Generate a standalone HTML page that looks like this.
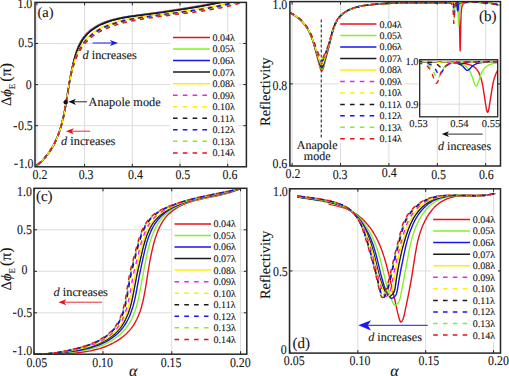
<!DOCTYPE html><html><head><meta charset="utf-8"><style>html,body{margin:0;padding:0;background:#fff;width:509px;height:376px;overflow:hidden}svg{display:block}text{font-family:"Liberation Serif",serif;fill:#141414;stroke:#141414;stroke-width:0.1px;text-rendering:geometricPrecision}</style></head><body>
<svg width="509" height="376" viewBox="0 0 509 376">
<rect width="509" height="376" fill="#fff"/>
<defs><clipPath id="ca"><rect x="35.0" y="2.4" width="211.4" height="164.4"/></clipPath><clipPath id="cb"><rect x="289.9" y="1.6" width="210.6" height="164.4"/></clipPath><clipPath id="cbi"><rect x="419.7" y="59.7" width="78" height="57.1"/></clipPath><clipPath id="cc"><rect x="34.0" y="188.3" width="212.8" height="166"/></clipPath><clipPath id="cd"><rect x="289.5" y="188.8" width="211" height="164.3"/></clipPath></defs>
<line x1="36.9" y1="2.4" x2="36.9" y2="166.8" stroke="#dcdcdc" stroke-width="1"/>
<line x1="84.6" y1="2.4" x2="84.6" y2="166.8" stroke="#dcdcdc" stroke-width="1"/>
<line x1="132.3" y1="2.4" x2="132.3" y2="166.8" stroke="#dcdcdc" stroke-width="1"/>
<line x1="180.0" y1="2.4" x2="180.0" y2="166.8" stroke="#dcdcdc" stroke-width="1"/>
<line x1="227.7" y1="2.4" x2="227.7" y2="166.8" stroke="#dcdcdc" stroke-width="1"/>
<line x1="35.0" y1="43.5" x2="246.4" y2="43.5" stroke="#dcdcdc" stroke-width="1"/>
<line x1="35.0" y1="84.60000000000001" x2="246.4" y2="84.60000000000001" stroke="#dcdcdc" stroke-width="1"/>
<line x1="35.0" y1="125.70000000000002" x2="246.4" y2="125.70000000000002" stroke="#dcdcdc" stroke-width="1"/>
<polyline points="34.8,167.0 38.5,164.1 41.8,161.0 44.9,157.8 47.9,154.0 50.7,150.1 53.1,146.0 55.5,141.3 57.5,136.5 59.2,132.1 60.8,127.0 62.2,121.9 63.5,116.2 65.7,105.1 69.4,82.6 71.1,73.1 73.2,63.0 74.4,58.2 75.5,54.3 76.7,50.6 78.1,46.9 79.7,43.4 81.3,40.4 83.1,37.7 84.9,35.5 86.7,33.4 89.1,31.2 91.7,29.1 94.8,27.0 98.1,25.1 101.5,23.4 105.1,22.0 108.8,20.7 113.0,19.4 117.3,18.4 122.2,17.4 128.0,16.5 157.1,12.6 180.5,9.1 202.8,5.3 225.4,1.0" fill="none" stroke="#e8121c" stroke-width="1.5"  stroke-linejoin="round" clip-path="url(#ca)"/>
<polyline points="34.8,167.0 38.5,164.1 41.8,161.0 44.9,157.7 48.0,154.0 50.7,150.0 53.1,145.9 55.3,141.7 57.4,136.9 59.1,132.4 60.7,127.4 62.1,122.2 63.5,116.5 64.6,111.3 65.6,105.5 69.3,82.9 71.0,73.3 73.1,63.7 74.3,58.9 75.4,55.1 76.7,51.3 78.1,47.6 79.6,44.1 81.2,41.1 83.0,38.4 84.7,36.1 86.9,33.7 89.3,31.5 91.8,29.4 94.9,27.3 97.8,25.6 101.2,23.9 104.8,22.4 109.0,20.9 113.2,19.6 117.5,18.6 122.8,17.5 128.7,16.5 158.8,12.5 182.7,8.9 204.6,5.2 226.2,1.0" fill="none" stroke="#85f02a" stroke-width="1.5"  stroke-linejoin="round" clip-path="url(#ca)"/>
<polyline points="34.8,167.0 38.5,164.1 41.8,161.0 44.9,157.7 48.0,153.9 50.7,150.0 53.2,145.9 55.3,141.6 57.4,136.8 59.1,132.3 60.6,127.7 62.0,122.6 63.4,116.9 64.5,111.6 65.6,105.8 69.3,83.2 70.9,74.0 73.0,64.5 74.1,60.1 75.3,55.8 76.7,51.6 78.1,47.9 79.8,44.4 81.4,41.4 83.1,38.6 84.8,36.4 87.0,34.0 89.4,31.7 92.0,29.7 95.1,27.6 98.4,25.6 101.8,23.9 105.4,22.4 109.6,21.0 113.8,19.7 118.2,18.7 123.5,17.6 129.4,16.6 160.5,12.5 172.5,10.7 184.4,8.9 205.9,5.2 227.1,1.0" fill="none" stroke="#1616f0" stroke-width="1.5"  stroke-linejoin="round" clip-path="url(#ca)"/>
<polyline points="34.8,167.0 38.5,164.0 41.9,161.0 44.9,157.7 48.0,153.9 50.5,150.3 53.0,146.2 55.2,142.0 57.3,137.2 59.0,132.7 60.5,128.1 61.9,122.9 63.3,117.2 64.4,112.0 65.5,106.2 69.2,83.9 70.8,74.7 72.9,65.1 74.0,60.8 75.3,56.5 76.7,52.3 78.1,48.6 79.7,45.1 81.3,42.1 83.1,39.3 85.1,36.7 87.2,34.2 89.6,32.0 92.2,30.0 95.3,27.8 98.6,25.9 102.1,24.2 105.7,22.7 109.9,21.2 114.1,19.9 118.9,18.8 124.3,17.7 130.2,16.7 162.8,12.4 174.8,10.6 186.3,8.8 197.3,7.0 207.8,5.1 217.9,3.1 228.1,1.0" fill="none" stroke="#1a1a1a" stroke-width="1.5"  stroke-linejoin="round" clip-path="url(#ca)"/>
<polyline points="34.9,166.9 38.2,164.3 41.6,161.2 44.7,157.9 47.6,154.4 50.1,150.8 52.5,147.0 54.8,142.7 56.9,138.2 58.7,133.6 60.3,129.0 61.8,123.8 63.1,118.5 64.2,113.1 65.3,107.3 68.8,85.9 70.4,77.5 71.3,73.0 72.3,68.6 73.4,64.8 74.6,60.9 76.1,56.7 77.8,52.6 79.8,48.6 81.7,45.2 83.9,42.0 86.3,39.0 88.6,36.5 91.5,34.0 94.5,31.7 97.8,29.6 101.2,27.7 105.3,25.8 109.5,24.1 113.7,22.7 118.6,21.3 123.5,20.0 130.4,18.6 138.3,17.3 178.4,12.0 189.7,10.4 199.5,8.8 209.8,7.0 219.1,5.2 227.8,3.2 236.6,1.1" fill="none" stroke="#ffef00" stroke-width="1.5"  stroke-linejoin="round" clip-path="url(#ca)"/>
<polyline points="34.9,166.9 38.2,164.3 41.6,161.2 44.7,157.9 47.6,154.4 50.2,150.7 52.5,146.9 54.9,142.6 56.9,138.1 58.7,133.5 60.3,128.8 61.8,123.6 63.1,118.3 64.2,113.4 65.3,107.5 68.8,86.1 70.3,77.6 72.2,69.2 73.3,65.3 74.5,61.5 76.0,57.3 77.7,53.2 79.7,49.2 81.7,45.8 83.8,42.5 86.3,39.5 88.6,37.1 91.4,34.5 94.5,32.2 97.8,30.1 101.2,28.2 105.3,26.2 109.5,24.6 113.8,23.1 118.6,21.6 124.0,20.3 131.4,18.8 139.9,17.4 180.6,12.0 191.4,10.5 201.3,8.9 211.1,7.1 220.4,5.3 229.2,3.3 238.0,1.1" fill="none" stroke="#f020f0" stroke-width="1.5" stroke-dasharray="4.3 4.5" stroke-dashoffset="-4.0" stroke-linejoin="round" clip-path="url(#ca)"/>
<polyline points="34.9,166.9 38.2,164.3 41.6,161.2 44.7,157.9 47.6,154.4 50.2,150.7 52.5,146.9 54.9,142.6 56.9,138.1 58.6,133.9 60.2,129.3 61.7,124.0 63.0,118.8 64.2,113.4 65.3,107.5 68.8,86.0 70.3,77.5 72.2,69.1 73.3,65.3 74.5,61.4 76.0,57.2 77.8,53.1 79.8,49.1 81.8,45.7 84.0,42.5 86.4,39.5 88.7,37.0 91.6,34.5 94.7,32.2 98.0,30.0 101.5,28.2 105.5,26.3 109.7,24.6 114.0,23.1 118.9,21.7 124.3,20.3 131.7,18.8 140.2,17.4 180.9,12.1 191.7,10.5 201.6,8.9 211.4,7.2 220.7,5.3 229.5,3.3 238.3,1.1" fill="none" stroke="#ffef00" stroke-width="1.5" stroke-dasharray="4.3 4.5" stroke-dashoffset="-4.0" stroke-linejoin="round" clip-path="url(#ca)"/>
<polyline points="34.9,166.9 38.2,164.3 41.6,161.2 44.4,158.2 47.3,154.7 49.9,151.1 52.3,147.3 54.7,142.9 56.8,138.4 58.6,133.8 60.2,129.1 61.8,123.9 63.1,118.6 64.2,113.2 65.3,107.3 68.7,86.2 70.2,78.2 72.1,69.8 73.2,65.9 74.4,62.0 75.9,57.8 77.7,53.6 79.7,49.7 81.7,46.3 83.9,43.0 86.3,40.0 88.7,37.6 91.6,35.0 94.7,32.6 98.0,30.5 101.4,28.6 105.5,26.7 109.7,25.0 114.5,23.4 119.4,21.9 124.8,20.6 132.8,18.9 141.7,17.5 183.1,12.1 194.0,10.5 203.4,9.0 213.2,7.2 222.6,5.3 231.4,3.2 239.7,1.1" fill="none" stroke="#1a1a1a" stroke-width="1.5" stroke-dasharray="4.3 4.5" stroke-dashoffset="-4.0" stroke-linejoin="round" clip-path="url(#ca)"/>
<polyline points="34.9,166.9 38.2,164.3 41.6,161.2 44.4,158.2 47.3,154.7 50.0,151.0 52.4,147.2 54.7,142.8 56.8,138.3 58.5,134.1 60.1,129.4 61.7,124.2 63.0,118.9 64.2,113.5 65.3,107.6 68.8,86.0 70.3,77.9 71.2,73.4 72.2,69.4 73.3,65.5 74.4,62.1 75.9,57.9 77.7,53.8 79.8,49.8 81.8,46.4 84.1,43.2 86.6,40.2 89.0,37.7 91.9,35.2 95.0,32.8 98.3,30.7 102.3,28.6 106.4,26.7 110.7,25.1 115.5,23.5 120.4,22.0 125.9,20.7 133.8,19.1 143.3,17.5 184.8,12.1 195.7,10.5 205.1,9.0 215.0,7.2 223.9,5.4 232.7,3.3 241.0,1.1" fill="none" stroke="#1616f0" stroke-width="1.5" stroke-dasharray="4.3 4.5" stroke-dashoffset="-4.0" stroke-linejoin="round" clip-path="url(#ca)"/>
<polyline points="34.9,166.9 38.2,164.3 41.7,161.1 44.5,158.2 47.4,154.6 50.1,150.9 52.5,147.0 54.6,143.0 56.8,138.4 58.5,134.2 60.1,129.5 61.7,124.2 63.0,118.8 64.1,113.9 65.2,107.9 68.7,86.6 70.2,78.4 72.0,70.3 73.1,66.3 74.2,62.9 75.8,58.7 77.6,54.5 79.5,51.0 81.6,47.6 84.0,44.4 86.5,41.3 89.3,38.5 92.0,36.3 95.2,33.9 98.6,31.8 102.6,29.7 106.7,27.8 111.0,26.1 116.0,24.5 121.4,22.9 127.4,21.4 136.5,19.6 147.0,17.9 157.1,16.5 190.4,12.3 200.9,10.7 210.0,9.3 219.5,7.5 228.4,5.6 236.8,3.5 245.1,1.1" fill="none" stroke="#85f02a" stroke-width="1.5" stroke-dasharray="4.3 4.5" stroke-dashoffset="-4.0" stroke-linejoin="round" clip-path="url(#ca)"/>
<polyline points="34.9,166.9 38.2,164.3 41.3,161.5 44.2,158.5 47.1,155.0 49.8,151.2 52.3,147.3 54.5,143.3 56.6,138.7 58.6,134.0 60.2,129.3 61.6,124.5 63.0,119.1 64.2,113.7 65.3,107.7 68.6,86.8 70.1,78.5 72.0,70.4 73.1,66.4 74.2,63.0 75.8,58.7 77.5,55.0 79.4,51.4 81.5,48.0 83.9,44.8 86.5,41.8 89.3,39.0 92.0,36.7 95.2,34.4 98.6,32.2 102.7,30.1 106.9,28.2 111.2,26.5 116.2,24.9 121.7,23.3 127.7,21.8 137.8,19.8 148.9,17.9 159.0,16.6 192.4,12.4 202.5,10.9 211.6,9.4 221.1,7.7 230.1,5.7 238.5,3.6 246.8,1.1" fill="none" stroke="#e8121c" stroke-width="1.5" stroke-dasharray="4.3 4.5" stroke-dashoffset="-4.0" stroke-linejoin="round" clip-path="url(#ca)"/>
<line x1="36.9" y1="166.8" x2="36.9" y2="163.8" stroke="#262626" stroke-width="1"/>
<line x1="36.9" y1="2.4" x2="36.9" y2="5.4" stroke="#262626" stroke-width="1"/>
<line x1="84.6" y1="166.8" x2="84.6" y2="163.8" stroke="#262626" stroke-width="1"/>
<line x1="84.6" y1="2.4" x2="84.6" y2="5.4" stroke="#262626" stroke-width="1"/>
<line x1="132.3" y1="166.8" x2="132.3" y2="163.8" stroke="#262626" stroke-width="1"/>
<line x1="132.3" y1="2.4" x2="132.3" y2="5.4" stroke="#262626" stroke-width="1"/>
<line x1="180.0" y1="166.8" x2="180.0" y2="163.8" stroke="#262626" stroke-width="1"/>
<line x1="180.0" y1="2.4" x2="180.0" y2="5.4" stroke="#262626" stroke-width="1"/>
<line x1="227.7" y1="166.8" x2="227.7" y2="163.8" stroke="#262626" stroke-width="1"/>
<line x1="227.7" y1="2.4" x2="227.7" y2="5.4" stroke="#262626" stroke-width="1"/>
<line x1="35.0" y1="43.5" x2="38.0" y2="43.5" stroke="#262626" stroke-width="1"/>
<line x1="246.4" y1="43.5" x2="243.4" y2="43.5" stroke="#262626" stroke-width="1"/>
<line x1="35.0" y1="84.60000000000001" x2="38.0" y2="84.60000000000001" stroke="#262626" stroke-width="1"/>
<line x1="246.4" y1="84.60000000000001" x2="243.4" y2="84.60000000000001" stroke="#262626" stroke-width="1"/>
<line x1="35.0" y1="125.70000000000002" x2="38.0" y2="125.70000000000002" stroke="#262626" stroke-width="1"/>
<line x1="246.4" y1="125.70000000000002" x2="243.4" y2="125.70000000000002" stroke="#262626" stroke-width="1"/>
<rect x="35.0" y="2.4" width="211.4" height="164.4" fill="none" stroke="#262626" stroke-width="1.5"/>
<rect x="170" y="32" width="68" height="127" fill="#fff"/>
<line x1="173" y1="37.50" x2="210" y2="37.50" stroke="#e8121c" stroke-width="1.5"/>
<text x="212.5" y="40.90" font-size="10">0.04λ</text>
<line x1="173" y1="49.04" x2="210" y2="49.04" stroke="#85f02a" stroke-width="1.5"/>
<text x="212.5" y="52.44" font-size="10">0.05λ</text>
<line x1="173" y1="60.58" x2="210" y2="60.58" stroke="#1616f0" stroke-width="1.5"/>
<text x="212.5" y="63.98" font-size="10">0.06λ</text>
<line x1="173" y1="72.12" x2="210" y2="72.12" stroke="#1a1a1a" stroke-width="1.5"/>
<text x="212.5" y="75.52" font-size="10">0.07λ</text>
<line x1="173" y1="83.66" x2="210" y2="83.66" stroke="#ffef00" stroke-width="1.5"/>
<text x="212.5" y="87.06" font-size="10">0.08λ</text>
<line x1="173" y1="95.20" x2="210" y2="95.20" stroke="#f020f0" stroke-width="1.5" stroke-dasharray="4.6 5.2"/>
<text x="212.5" y="98.60" font-size="10">0.09λ</text>
<line x1="173" y1="106.74" x2="210" y2="106.74" stroke="#ffef00" stroke-width="1.5" stroke-dasharray="4.6 5.2"/>
<text x="212.5" y="110.14" font-size="10">0.10λ</text>
<line x1="173" y1="118.28" x2="210" y2="118.28" stroke="#1a1a1a" stroke-width="1.5" stroke-dasharray="4.6 5.2"/>
<text x="212.5" y="121.68" font-size="10">0.11λ</text>
<line x1="173" y1="129.82" x2="210" y2="129.82" stroke="#1616f0" stroke-width="1.5" stroke-dasharray="4.6 5.2"/>
<text x="212.5" y="133.22" font-size="10">0.12λ</text>
<line x1="173" y1="141.36" x2="210" y2="141.36" stroke="#85f02a" stroke-width="1.5" stroke-dasharray="4.6 5.2"/>
<text x="212.5" y="144.76" font-size="10">0.13λ</text>
<line x1="173" y1="152.90" x2="210" y2="152.90" stroke="#e8121c" stroke-width="1.5" stroke-dasharray="4.6 5.2"/>
<text x="212.5" y="156.30" font-size="10">0.14λ</text>
<text transform="translate(32.3,8.0) scale(0.88,1)" font-size="13.5" text-anchor="end">1.0</text>
<text transform="translate(33.2,47.3) scale(0.88,1)" font-size="13.5" text-anchor="end">0.5</text>
<text transform="translate(31.6,88.6) scale(0.88,1)" font-size="13.5" text-anchor="end">0</text>
<text transform="translate(32.8,130.0) scale(0.88,1)" font-size="13.5" text-anchor="end">0.5</text>
<rect x="13.55" y="126.10" width="3.5" height="1.15" fill="#1a1a1a"/>
<text transform="translate(33.5,167.6) scale(0.88,1)" font-size="13.5" text-anchor="end">1.0</text>
<rect x="14.25" y="163.70" width="3.5" height="1.15" fill="#1a1a1a"/>
<text transform="translate(40.0,178.9) scale(0.88,1)" font-size="13.5" text-anchor="middle">0.2</text>
<text transform="translate(86.1,178.9) scale(0.88,1)" font-size="13.5" text-anchor="middle">0.3</text>
<text transform="translate(135.5,178.9) scale(0.88,1)" font-size="13.5" text-anchor="middle">0.4</text>
<text transform="translate(182.8,178.9) scale(0.88,1)" font-size="13.5" text-anchor="middle">0.5</text>
<text transform="translate(230,178.9) scale(0.88,1)" font-size="13.5" text-anchor="middle">0.6</text>
<text x="37.5" y="16.8" font-size="14.5" text-anchor="start" >(a)</text>
<text transform="translate(10.6,106.0) rotate(-90)" font-size="14.5"><tspan>Δ</tspan><tspan font-style="italic">ϕ</tspan><tspan font-size="9" dy="4">E</tspan><tspan dy="-4" font-size="16" dx="2">(π)</tspan></text>
<line x1="92.7" y1="43" x2="112.03" y2="43.00" stroke="#1a1af8" stroke-width="1.0"/>
<path d="M118.10,43.00 L109.90,46.10 L112.03,43.00 L109.90,39.90 Z" fill="#1a1af8"/>
<text x="82.5" y="59.2" font-size="12.3"><tspan font-style="italic">d</tspan> increases</text>
<line x1="87.0" y1="101.8" x2="73.95" y2="101.80" stroke="#111" stroke-width="0.9"/>
<path d="M68.40,101.80 L75.90,98.65 L73.95,101.80 L75.90,104.95 Z" fill="#111"/>
<circle cx="65.7" cy="102.2" r="2.2" fill="#111"/>
<text x="88.6" y="106.1" font-size="12.3" text-anchor="start" >Anapole mode</text>
<line x1="90.1" y1="131.2" x2="71.75" y2="131.20" stroke="#e8121c" stroke-width="0.9"/>
<path d="M65.90,131.20 L73.80,128.15 L71.75,131.20 L73.80,134.25 Z" fill="#e8121c"/>
<text x="61.1" y="145.2" font-size="12.3"><tspan font-style="italic">d</tspan> increases</text>
<line x1="292.1" y1="1.6" x2="292.1" y2="166.0" stroke="#dcdcdc" stroke-width="1"/>
<line x1="340.5" y1="1.6" x2="340.5" y2="166.0" stroke="#dcdcdc" stroke-width="1"/>
<line x1="388.90000000000003" y1="1.6" x2="388.90000000000003" y2="166.0" stroke="#dcdcdc" stroke-width="1"/>
<line x1="437.3" y1="1.6" x2="437.3" y2="166.0" stroke="#dcdcdc" stroke-width="1"/>
<line x1="485.70000000000005" y1="1.6" x2="485.70000000000005" y2="166.0" stroke="#dcdcdc" stroke-width="1"/>
<line x1="289.9" y1="83.89999999999998" x2="500.5" y2="83.89999999999998" stroke="#dcdcdc" stroke-width="1"/>
<polyline points="290.0,12.9 292.7,14.3 295.2,15.9 297.7,17.6 300.2,19.8 302.6,22.2 304.6,24.6 306.6,27.4 308.2,30.2 309.4,32.5 310.5,34.9 312.5,40.3 313.8,44.3 315.1,49.0 320.0,67.5 320.6,69.1 321.0,70.0 321.4,70.6 321.8,70.8 322.2,70.6 322.6,69.9 323.6,67.4 326.1,57.5 328.8,47.3 332.5,32.4 334.3,26.8 335.2,24.6 336.1,22.6 337.5,20.1 339.0,17.9 340.7,15.9 342.6,14.2 344.9,12.5 347.3,11.0 349.8,9.7 352.8,8.4 355.9,7.4 359.1,6.6 362.6,5.8 366.3,5.3 370.6,4.7 375.8,4.2 387.4,3.4 396.2,3.1 406.0,2.9 449.5,2.8 453.8,2.9 455.1,3.1 456.0,3.4 456.6,3.7 457.1,4.1 457.6,4.7 457.9,5.5 458.5,7.5 458.9,10.8 459.2,15.2 459.4,21.7 460.0,47.4 460.2,50.9 460.3,46.9 460.8,22.7 461.2,12.8 461.5,9.4 461.9,6.7 462.4,5.1 463.2,3.9 463.8,3.4 464.7,3.0 465.8,2.7 467.4,2.5 472.7,2.2 479.3,2.3 485.3,2.7 490.6,3.3 495.6,4.2 500.5,5.4" fill="none" stroke="#e8121c" stroke-width="1.4"  stroke-linejoin="round" clip-path="url(#cb)"/>
<polyline points="290.0,12.9 292.7,14.3 295.2,15.8 297.7,17.6 300.2,19.8 302.6,22.1 304.6,24.5 306.4,27.1 308.1,29.8 309.1,31.7 310.3,34.1 312.3,39.4 314.8,47.4 319.9,65.8 320.4,67.4 321.0,68.6 321.4,69.1 321.8,69.3 322.2,69.1 322.6,68.5 323.6,66.0 328.7,47.2 331.6,35.6 332.7,31.5 334.3,26.6 335.2,24.4 336.1,22.4 337.5,20.0 339.0,17.8 340.7,15.9 342.8,13.9 345.1,12.2 347.5,10.8 350.1,9.5 353.1,8.3 355.9,7.4 359.1,6.6 362.3,5.9 366.0,5.3 370.0,4.8 374.6,4.3 385.9,3.5 396.2,3.1 407.8,2.9 435.0,2.9 450.2,2.8 452.7,2.8 454.3,3.0 455.5,3.4 456.4,4.0 456.9,5.0 457.4,6.6 457.7,9.0 458.0,11.9 458.6,24.1 458.7,25.8 458.9,23.7 459.5,12.2 459.9,7.4 460.3,5.7 460.7,4.4 461.3,3.6 462.1,3.1 463.0,2.8 464.2,2.5 468.5,2.2 475.1,2.2 481.7,2.4 486.8,2.8 491.5,3.5 496.2,4.3 500.5,5.4" fill="none" stroke="#85f02a" stroke-width="1.4"  stroke-linejoin="round" clip-path="url(#cb)"/>
<polyline points="290.0,12.9 292.7,14.2 295.2,15.8 297.7,17.5 300.2,19.7 302.4,21.8 304.6,24.4 306.4,26.9 308.1,29.6 310.1,33.6 312.1,38.4 314.4,45.6 319.9,64.5 320.4,66.0 321.0,67.2 321.4,67.7 321.8,67.8 322.2,67.6 322.6,67.0 323.2,65.8 323.7,64.3 328.6,47.1 331.7,35.0 332.8,30.9 334.4,26.1 335.3,24.0 336.2,22.0 337.6,19.6 339.2,17.5 340.9,15.6 343.1,13.7 345.3,12.0 347.8,10.6 350.4,9.3 353.3,8.2 356.2,7.3 359.1,6.5 362.3,5.9 366.0,5.3 374.3,4.3 385.3,3.5 394.4,3.1 404.5,2.9 435.9,2.9 452.8,2.7 454.2,2.8 455.1,3.0 455.8,3.4 456.3,3.9 456.6,4.6 456.9,5.6 457.5,10.4 457.7,10.9 457.9,10.3 458.4,5.8 458.9,4.1 459.3,3.5 459.9,3.0 460.6,2.7 461.7,2.5 465.7,2.2 472.4,2.1 478.1,2.2 483.2,2.5 488.0,3.0 492.4,3.6 496.5,4.4 500.5,5.4" fill="none" stroke="#1616f0" stroke-width="1.4"  stroke-linejoin="round" clip-path="url(#cb)"/>
<polyline points="290.0,12.9 292.7,14.2 295.2,15.7 297.7,17.5 300.0,19.4 302.2,21.5 304.4,24.1 306.2,26.6 307.9,29.2 309.1,31.4 310.3,33.7 311.4,36.4 312.5,39.4 314.2,44.6 318.8,60.0 320.0,63.7 320.6,65.0 321.0,65.7 321.4,66.2 321.8,66.3 322.2,66.1 322.6,65.5 323.2,64.4 323.7,62.9 328.5,46.9 331.8,34.3 333.0,30.0 334.7,25.3 336.4,21.6 337.8,19.3 339.4,17.2 341.2,15.3 343.3,13.4 345.6,11.8 348.0,10.4 350.6,9.2 353.6,8.1 357.3,7.0 361.4,6.0 366.0,5.2 370.9,4.6 377.4,4.0 384.7,3.5 392.3,3.2 400.7,3.0 411.7,2.9 437.4,2.9 454.0,2.6 455.1,2.8 455.8,3.1 456.1,3.5 456.6,4.7 456.8,4.9 457.0,4.7 457.4,3.6 457.8,3.1 458.3,2.7 459.2,2.5 461.7,2.3 466.9,2.2 476.3,2.2 483.2,2.5 489.4,3.1 495.0,4.1 500.5,5.4" fill="none" stroke="#1a1a1a" stroke-width="1.4"  stroke-linejoin="round" clip-path="url(#cb)"/>
<polyline points="290.0,12.8 292.7,14.1 295.2,15.7 297.7,17.4 300.0,19.4 302.2,21.5 304.2,23.8 306.1,26.2 307.8,28.8 309.9,32.6 311.7,37.0 313.8,42.9 317.9,56.3 319.6,61.4 320.7,64.0 321.3,64.7 321.7,64.9 322.1,64.8 322.6,64.2 323.2,63.1 323.8,61.3 328.5,46.4 331.9,33.8 333.1,29.5 334.8,24.8 335.7,22.8 336.5,21.2 338.0,18.9 339.6,16.9 341.4,15.0 343.5,13.2 345.8,11.6 348.3,10.2 350.9,9.0 353.9,7.9 357.6,6.9 361.7,5.9 366.3,5.2 371.2,4.6 378.0,4.0 385.3,3.5 392.9,3.2 401.0,3.0 411.7,2.9 437.7,2.9 453.6,2.6 454.6,2.7 455.2,2.8 455.5,3.0 456.0,3.6 456.2,3.7 456.9,3.0 457.2,2.7 457.8,2.6 458.8,2.4 467.8,2.1 476.3,2.2 483.2,2.5 489.4,3.1 495.0,4.1 500.5,5.4" fill="none" stroke="#ffef00" stroke-width="1.4"  stroke-linejoin="round" clip-path="url(#cb)"/>
<polyline points="290.0,12.8 292.4,14.0 295.0,15.5 297.4,17.2 299.8,19.1 302.0,21.2 304.0,23.4 305.9,25.8 307.6,28.4 308.9,30.5 310.0,32.7 311.1,35.3 312.2,38.0 313.9,42.9 318.1,55.9 319.7,60.7 320.3,61.9 320.8,62.9 321.3,63.3 321.7,63.5 322.2,63.3 322.8,62.6 323.3,61.5 324.0,59.8 328.5,46.0 332.0,33.2 333.3,28.7 334.9,24.4 335.8,22.4 336.7,20.8 338.1,18.6 339.8,16.5 341.6,14.7 343.7,13.0 346.1,11.4 348.5,10.1 351.2,8.9 354.2,7.8 357.9,6.8 362.0,5.9 366.6,5.1 371.5,4.5 378.3,4.0 385.6,3.5 393.2,3.2 401.3,3.0 411.9,2.9 437.4,2.9 453.0,2.6 453.9,2.7 454.5,2.8 454.8,3.1 455.5,3.7 455.6,3.6 456.2,3.0 456.5,2.8 457.1,2.6 458.1,2.5 467.8,2.1 476.3,2.2 483.2,2.5 489.4,3.1 495.0,4.1 500.5,5.4" fill="none" stroke="#f020f0" stroke-width="1.4" stroke-dasharray="4.6 5.2" stroke-dashoffset="0.0" stroke-linejoin="round" clip-path="url(#cb)"/>
<polyline points="290.0,12.8 292.4,13.9 295.0,15.5 297.4,17.2 299.8,19.1 301.7,20.9 303.8,23.1 305.7,25.5 307.4,28.0 308.7,30.1 309.9,32.3 312.0,37.2 313.7,42.0 317.7,54.3 319.6,59.5 320.1,60.7 320.7,61.7 321.3,62.3 321.7,62.4 322.2,62.2 322.8,61.5 323.4,60.2 324.1,58.5 328.5,45.6 332.1,32.7 333.4,28.2 335.0,24.0 336.0,22.0 336.8,20.4 338.3,18.2 340.0,16.3 341.8,14.5 343.7,12.9 346.1,11.4 348.5,10.0 351.2,8.9 354.2,7.8 357.9,6.7 362.0,5.9 366.6,5.1 371.5,4.5 378.3,3.9 385.6,3.5 393.2,3.2 401.6,3.0 412.2,2.9 436.2,2.9 452.1,2.7 453.3,2.9 453.9,3.2 454.3,3.8 454.8,5.2 455.0,5.4 455.2,5.2 455.7,3.7 456.0,3.2 456.6,2.8 457.5,2.6 460.3,2.4 466.3,2.2 476.3,2.2 483.2,2.5 489.4,3.1 495.0,4.1 500.5,5.4" fill="none" stroke="#ffef00" stroke-width="1.4" stroke-dasharray="4.6 5.2" stroke-dashoffset="0.0" stroke-linejoin="round" clip-path="url(#cb)"/>
<polyline points="290.0,12.8 292.4,13.9 295.0,15.4 297.2,16.9 299.5,18.8 301.5,20.6 303.6,22.8 305.5,25.2 307.3,27.7 308.5,29.8 309.7,31.9 311.9,36.7 313.6,41.5 317.5,53.0 319.5,58.3 320.1,59.7 320.7,60.6 321.3,61.2 321.7,61.3 322.2,61.1 322.9,60.2 323.6,58.9 324.4,56.9 327.3,48.9 328.5,45.2 329.6,41.5 332.1,32.5 333.4,28.0 335.0,23.9 336.0,21.9 336.8,20.3 338.3,18.2 340.0,16.2 341.8,14.4 344.0,12.7 346.3,11.2 348.8,9.9 351.4,8.7 354.4,7.7 358.2,6.7 362.3,5.8 366.9,5.1 371.8,4.5 378.6,3.9 385.9,3.5 393.5,3.1 401.8,2.9 412.2,2.9 435.9,2.9 448.9,2.8 451.6,2.8 452.3,3.0 452.8,3.2 453.3,3.6 453.6,4.0 453.9,5.2 454.5,8.7 454.6,9.1 454.8,8.5 455.4,5.1 455.6,4.2 455.9,3.6 456.3,3.1 456.9,2.8 457.8,2.6 459.1,2.5 464.8,2.2 471.8,2.1 477.5,2.2 482.6,2.5 487.4,2.9 492.1,3.5 496.5,4.4 500.5,5.4" fill="none" stroke="#1a1a1a" stroke-width="1.4" stroke-dasharray="4.6 5.2" stroke-dashoffset="0.0" stroke-linejoin="round" clip-path="url(#cb)"/>
<polyline points="290.0,12.7 292.4,13.9 295.0,15.4 297.2,16.9 299.5,18.8 301.5,20.6 303.6,22.8 305.3,24.9 307.1,27.3 309.4,31.2 310.5,33.4 311.6,36.0 313.4,40.6 317.2,51.9 319.3,57.2 320.0,58.6 320.6,59.5 321.1,60.1 321.7,60.3 322.1,60.2 322.5,59.8 323.4,58.2 326.9,49.6 328.0,46.4 329.0,43.4 332.1,32.3 333.4,27.9 335.2,23.5 336.1,21.5 337.0,20.0 338.5,17.9 340.2,15.9 342.0,14.2 344.2,12.5 346.5,11.0 349.1,9.7 351.7,8.6 354.7,7.6 357.6,6.8 360.5,6.1 363.8,5.5 367.5,5.0 376.5,4.1 386.8,3.4 396.2,3.1 406.6,2.9 446.8,2.8 449.9,2.9 451.1,3.1 452.0,3.4 452.6,3.9 453.0,4.8 453.3,5.9 453.5,7.5 454.1,14.1 454.2,15.2 454.4,14.4 454.9,7.8 455.4,5.0 455.8,4.1 456.3,3.4 456.9,3.0 457.8,2.7 459.2,2.5 461.4,2.4 468.8,2.1 475.7,2.2 481.7,2.4 486.8,2.8 491.5,3.4 496.2,4.3 500.5,5.4" fill="none" stroke="#1616f0" stroke-width="1.4" stroke-dasharray="4.6 5.2" stroke-dashoffset="0.0" stroke-linejoin="round" clip-path="url(#cb)"/>
<polyline points="290.0,12.7 292.4,13.9 294.7,15.2 297.0,16.7 299.3,18.5 301.3,20.3 303.4,22.5 305.1,24.6 306.9,27.0 308.2,29.0 309.4,31.1 311.5,35.5 313.3,40.1 317.1,51.1 319.2,56.2 319.9,57.5 320.6,58.6 321.1,59.2 321.7,59.3 322.1,59.2 322.5,58.8 323.4,57.3 327.1,48.6 329.0,43.1 332.1,32.1 333.5,27.4 334.4,25.1 335.3,23.1 336.2,21.2 337.2,19.7 338.7,17.6 340.4,15.7 342.2,14.0 344.4,12.3 346.8,10.9 349.3,9.6 352.0,8.5 355.0,7.5 357.9,6.7 360.8,6.0 364.1,5.4 367.8,4.9 376.8,4.0 387.4,3.4 397.1,3.0 408.1,2.9 446.0,2.8 449.8,3.0 451.0,3.2 451.8,3.7 452.3,4.4 452.8,5.6 453.1,7.1 453.3,8.9 453.8,17.9 454.0,18.9 454.2,17.5 454.7,9.4 455.1,5.9 455.5,4.7 455.9,3.8 456.6,3.3 457.4,2.9 458.7,2.6 460.6,2.4 467.5,2.2 474.8,2.1 481.4,2.4 486.5,2.8 491.5,3.4 496.2,4.3 500.5,5.4" fill="none" stroke="#85f02a" stroke-width="1.4" stroke-dasharray="4.6 5.2" stroke-dashoffset="0.0" stroke-linejoin="round" clip-path="url(#cb)"/>
<polyline points="290.0,12.7 292.4,13.9 294.7,15.2 297.0,16.7 299.1,18.3 301.1,20.1 303.2,22.2 305.0,24.3 306.8,26.7 308.1,28.7 309.3,30.7 311.4,35.1 313.2,39.6 316.9,50.0 319.1,55.2 319.9,56.7 320.6,57.7 321.1,58.2 321.7,58.3 322.1,58.2 322.5,57.8 323.0,57.1 323.6,56.2 327.3,47.6 329.1,42.5 332.1,31.6 333.5,27.3 334.4,24.9 335.3,23.0 336.2,21.1 337.2,19.6 338.7,17.5 340.4,15.6 342.2,13.9 344.4,12.3 346.8,10.8 349.3,9.6 352.0,8.5 355.0,7.4 357.9,6.7 360.8,6.0 364.1,5.4 367.8,4.9 377.1,4.0 387.7,3.4 398.0,3.0 409.6,2.9 445.4,2.9 448.0,2.9 449.7,3.1 450.8,3.4 451.6,4.0 452.2,4.8 452.6,6.3 452.9,8.1 453.1,10.9 453.7,21.8 453.8,23.5 454.0,22.0 454.6,11.0 455.0,6.9 455.3,5.4 455.8,4.2 456.4,3.5 457.2,3.0 458.3,2.7 459.9,2.5 465.7,2.2 473.6,2.1 480.8,2.4 486.2,2.8 491.2,3.4 495.9,4.3 500.5,5.4" fill="none" stroke="#e8121c" stroke-width="1.4" stroke-dasharray="4.6 5.2" stroke-dashoffset="0.0" stroke-linejoin="round" clip-path="url(#cb)"/>
<line x1="321.3" y1="19.4" x2="321.3" y2="139" stroke="#4a4a4a" stroke-width="1.3" stroke-dasharray="3 2"/>
<line x1="292.1" y1="166.0" x2="292.1" y2="163.0" stroke="#262626" stroke-width="1"/>
<line x1="292.1" y1="1.6" x2="292.1" y2="4.6" stroke="#262626" stroke-width="1"/>
<line x1="340.5" y1="166.0" x2="340.5" y2="163.0" stroke="#262626" stroke-width="1"/>
<line x1="340.5" y1="1.6" x2="340.5" y2="4.6" stroke="#262626" stroke-width="1"/>
<line x1="388.90000000000003" y1="166.0" x2="388.90000000000003" y2="163.0" stroke="#262626" stroke-width="1"/>
<line x1="388.90000000000003" y1="1.6" x2="388.90000000000003" y2="4.6" stroke="#262626" stroke-width="1"/>
<line x1="437.3" y1="166.0" x2="437.3" y2="163.0" stroke="#262626" stroke-width="1"/>
<line x1="437.3" y1="1.6" x2="437.3" y2="4.6" stroke="#262626" stroke-width="1"/>
<line x1="485.70000000000005" y1="166.0" x2="485.70000000000005" y2="163.0" stroke="#262626" stroke-width="1"/>
<line x1="485.70000000000005" y1="1.6" x2="485.70000000000005" y2="4.6" stroke="#262626" stroke-width="1"/>
<line x1="289.9" y1="83.89999999999998" x2="292.9" y2="83.89999999999998" stroke="#262626" stroke-width="1"/>
<line x1="500.5" y1="83.89999999999998" x2="497.5" y2="83.89999999999998" stroke="#262626" stroke-width="1"/>
<rect x="289.9" y="1.6" width="210.60000000000002" height="164.4" fill="none" stroke="#262626" stroke-width="1.5"/>
<rect x="338.5" y="19" width="65.5" height="124" fill="#fff"/>
<line x1="340.2" y1="24.10" x2="376.4" y2="24.10" stroke="#e8121c" stroke-width="1.5"/>
<text x="379.6" y="27.50" font-size="10">0.04λ</text>
<line x1="340.2" y1="35.57" x2="376.4" y2="35.57" stroke="#85f02a" stroke-width="1.5"/>
<text x="379.6" y="38.97" font-size="10">0.05λ</text>
<line x1="340.2" y1="47.04" x2="376.4" y2="47.04" stroke="#1616f0" stroke-width="1.5"/>
<text x="379.6" y="50.44" font-size="10">0.06λ</text>
<line x1="340.2" y1="58.51" x2="376.4" y2="58.51" stroke="#1a1a1a" stroke-width="1.5"/>
<text x="379.6" y="61.91" font-size="10">0.07λ</text>
<line x1="340.2" y1="69.98" x2="376.4" y2="69.98" stroke="#ffef00" stroke-width="1.5"/>
<text x="379.6" y="73.38" font-size="10">0.08λ</text>
<line x1="340.2" y1="81.45" x2="376.4" y2="81.45" stroke="#f020f0" stroke-width="1.5" stroke-dasharray="4.6 5.2"/>
<text x="379.6" y="84.85" font-size="10">0.09λ</text>
<line x1="340.2" y1="92.92" x2="376.4" y2="92.92" stroke="#ffef00" stroke-width="1.5" stroke-dasharray="4.6 5.2"/>
<text x="379.6" y="96.32" font-size="10">0.10λ</text>
<line x1="340.2" y1="104.39" x2="376.4" y2="104.39" stroke="#1a1a1a" stroke-width="1.5" stroke-dasharray="4.6 5.2"/>
<text x="379.6" y="107.79" font-size="10">0.11λ</text>
<line x1="340.2" y1="115.86" x2="376.4" y2="115.86" stroke="#1616f0" stroke-width="1.5" stroke-dasharray="4.6 5.2"/>
<text x="379.6" y="119.26" font-size="10">0.12λ</text>
<line x1="340.2" y1="127.33" x2="376.4" y2="127.33" stroke="#85f02a" stroke-width="1.5" stroke-dasharray="4.6 5.2"/>
<text x="379.6" y="130.73" font-size="10">0.13λ</text>
<line x1="340.2" y1="138.80" x2="376.4" y2="138.80" stroke="#e8121c" stroke-width="1.5" stroke-dasharray="4.6 5.2"/>
<text x="379.6" y="142.20" font-size="10">0.14λ</text>
<text transform="translate(287.3,8.6) scale(0.88,1)" font-size="13.5" text-anchor="end">1.0</text>
<text transform="translate(287.3,90.1) scale(0.88,1)" font-size="13.5" text-anchor="end">0.8</text>
<text transform="translate(287.3,167.8) scale(0.88,1)" font-size="13.5" text-anchor="end">0.6</text>
<text transform="translate(293.0,178.1) scale(0.88,1)" font-size="13.5" text-anchor="middle">0.2</text>
<text transform="translate(340.1,179.4) scale(0.88,1)" font-size="13.5" text-anchor="middle">0.3</text>
<text transform="translate(389.2,177.4) scale(0.88,1)" font-size="13.5" text-anchor="middle">0.4</text>
<text transform="translate(438.6,178.7) scale(0.88,1)" font-size="13.5" text-anchor="middle">0.5</text>
<text transform="translate(486.3,179.0) scale(0.88,1)" font-size="13.5" text-anchor="middle">0.6</text>
<text x="479.0" y="21.3" font-size="15" text-anchor="start" >(b)</text>
<text transform="translate(269.8,126) rotate(-90)" font-size="14.5">Reflectivity</text>
<text x="317.2" y="149.1" font-size="12" text-anchor="middle" >Anapole</text>
<text x="317.2" y="160.0" font-size="12" text-anchor="middle" >mode</text>
<rect x="419.7" y="59.7" width="78.0" height="57.099999999999994" fill="#fff"/>
<line x1="459.20000000000005" y1="59.7" x2="459.20000000000005" y2="116.8" stroke="#dcdcdc" stroke-width="1"/>
<line x1="419.7" y1="104.19999999999999" x2="497.7" y2="104.19999999999999" stroke="#dcdcdc" stroke-width="1"/>
<polyline points="417.7,61.7 433.2,61.9 444.5,62.1 452.9,62.4 459.4,62.9 464.4,63.5 468.4,64.3 470.0,64.8 471.6,65.5 473.0,66.2 474.2,67.0 475.3,67.9 476.4,68.9 477.3,70.1 478.1,71.4 479.0,72.9 479.7,74.5 481.1,78.5 482.2,83.0 483.2,88.3 486.3,108.7 487.0,111.3 487.3,112.0 487.6,112.3 487.9,112.1 488.2,111.5 488.9,108.6 492.1,88.3 493.1,82.9 494.2,78.4 495.6,74.5 497.0,71.5 497.9,70.2 498.7,69.2 499.6,68.2 500.7,67.3" fill="none" stroke="#e8121c" stroke-width="1.4"  stroke-linejoin="round" clip-path="url(#cbi)"/>
<polyline points="417.7,61.7 437.9,61.9 444.6,62.1 449.9,62.4 454.2,62.8 457.7,63.3 460.5,63.9 462.9,64.7 464.8,65.6 466.4,66.8 467.9,68.3 469.2,70.1 470.4,72.2 471.4,74.6 474.7,84.2 475.4,85.5 475.9,85.9 476.2,86.0 476.5,85.9 476.9,85.5 477.6,84.2 478.4,82.3 480.5,75.8 482.1,72.1 483.6,69.4 484.5,68.3 485.4,67.3 486.6,66.3 487.9,65.5 489.5,64.7 491.1,64.1 493.0,63.6 495.2,63.2 500.7,62.5" fill="none" stroke="#85f02a" stroke-width="1.4"  stroke-linejoin="round" clip-path="url(#cbi)"/>
<polyline points="417.7,61.6 433.8,61.7 443.8,61.9 450.4,62.3 455.0,62.8 456.8,63.2 458.2,63.6 459.6,64.1 460.7,64.7 461.7,65.5 462.8,66.3 466.0,69.7 466.7,70.2 467.5,70.4 468.2,70.2 468.9,69.8 472.0,66.5 473.8,65.1 475.8,64.0 478.0,63.2 481.4,62.6 485.7,62.2 491.9,61.9 500.7,61.7" fill="none" stroke="#1616f0" stroke-width="1.4"  stroke-linejoin="round" clip-path="url(#cbi)"/>
<polyline points="417.7,61.5 439.4,61.6 449.2,61.9 452.0,62.1 454.2,62.5 456.0,62.9 459.0,63.9 460.4,64.1 461.7,63.9 464.7,62.9 466.5,62.5 468.7,62.1 471.3,61.9 480.5,61.6 500.7,61.5" fill="none" stroke="#1a1a1a" stroke-width="1.4"  stroke-linejoin="round" clip-path="url(#cbi)"/>
<polyline points="417.7,61.5 436.0,61.6 444.6,61.7 449.3,62.0 453.9,62.7 455.2,62.8 456.6,62.7 461.5,62.0 466.7,61.7 477.0,61.6 500.7,61.5" fill="none" stroke="#ffef00" stroke-width="1.4"  stroke-linejoin="round" clip-path="url(#cbi)"/>
<polyline points="417.7,61.5 432.4,61.6 439.8,61.8 443.9,62.0 448.4,62.7 449.7,62.8 451.1,62.7 456.1,62.0 461.7,61.7 473.2,61.6 500.7,61.5" fill="none" stroke="#f020f0" stroke-width="1.4" stroke-dasharray="4.6 5.2" stroke-dashoffset="0.0" stroke-linejoin="round" clip-path="url(#cbi)"/>
<polyline points="417.7,61.6 429.9,61.8 436.4,62.1 438.4,62.4 440.0,62.7 441.6,63.2 444.4,64.3 445.8,64.5 447.1,64.3 450.2,63.1 452.2,62.6 454.8,62.2 458.1,61.9 463.0,61.7 470.3,61.6 500.7,61.5" fill="none" stroke="#ffef00" stroke-width="1.4" stroke-dasharray="4.6 5.2" stroke-dashoffset="0.0" stroke-linejoin="round" clip-path="url(#cbi)"/>
<polyline points="417.7,61.8 423.6,61.9 427.9,62.2 431.1,62.5 433.7,63.0 435.5,63.6 437.0,64.4 438.5,65.4 441.3,67.9 442.0,68.3 442.6,68.4 443.3,68.3 443.9,67.9 447.0,65.2 448.0,64.5 449.1,63.9 450.3,63.4 451.7,63.0 455.2,62.4 460.3,62.0 468.0,61.7 500.7,61.6" fill="none" stroke="#1a1a1a" stroke-width="1.4" stroke-dasharray="4.6 5.2" stroke-dashoffset="0.0" stroke-linejoin="round" clip-path="url(#cbi)"/>
<polyline points="417.7,62.1 422.5,62.5 426.1,63.0 428.9,63.8 431.1,64.8 432.7,65.9 434.0,67.3 435.4,69.2 438.1,73.8 438.8,74.6 439.4,74.8 440.0,74.6 440.8,73.9 443.9,68.6 444.9,67.2 446.1,66.0 447.3,65.1 448.8,64.2 450.4,63.6 452.4,63.1 454.8,62.7 457.7,62.4 465.7,61.9 478.5,61.7 500.7,61.6" fill="none" stroke="#1616f0" stroke-width="1.4" stroke-dasharray="4.6 5.2" stroke-dashoffset="0.0" stroke-linejoin="round" clip-path="url(#cbi)"/>
<polyline points="417.7,62.4 421.8,62.9 424.9,63.6 427.4,64.6 428.4,65.2 429.5,66.0 430.9,67.4 432.2,69.1 433.5,71.6 436.1,77.3 436.8,78.4 437.1,78.6 437.5,78.7 437.8,78.6 438.1,78.4 438.8,77.4 441.9,70.7 443.0,68.9 444.1,67.3 445.4,66.0 446.9,65.0 448.6,64.2 450.5,63.5 452.9,63.0 455.9,62.6 459.6,62.3 464.2,62.0 477.5,61.8 500.7,61.6" fill="none" stroke="#85f02a" stroke-width="1.4" stroke-dasharray="4.6 5.2" stroke-dashoffset="0.0" stroke-linejoin="round" clip-path="url(#cbi)"/>
<polyline points="417.7,62.9 421.4,63.5 422.9,64.0 424.3,64.5 425.5,65.1 426.5,65.7 427.6,66.5 428.5,67.5 429.9,69.2 431.0,71.3 432.3,74.2 435.0,81.8 435.7,83.0 436.0,83.3 436.3,83.4 436.6,83.3 436.9,83.0 437.6,81.9 438.2,80.4 440.8,73.1 441.8,70.8 443.0,68.9 444.3,67.2 445.8,65.9 447.5,64.8 449.5,64.0 452.0,63.3 455.0,62.8 458.7,62.4 463.4,62.2 476.9,61.8 500.7,61.6" fill="none" stroke="#e8121c" stroke-width="1.4" stroke-dasharray="4.6 5.2" stroke-dashoffset="0.0" stroke-linejoin="round" clip-path="url(#cbi)"/>
<rect x="419.7" y="59.7" width="78.0" height="57.099999999999994" fill="none" stroke="#262626" stroke-width="1.3"/>
<text x="418.6" y="65.2" font-size="10.5" text-anchor="end" >1.0</text>
<text x="418.6" y="107.7" font-size="10.5" text-anchor="end" >0.9</text>
<text x="418.5" y="127.0" font-size="10.5" text-anchor="middle" >0.53</text>
<text x="459.4" y="127.0" font-size="10.5" text-anchor="middle" >0.54</text>
<text x="491" y="127.0" font-size="10.5" text-anchor="middle" >0.55</text>
<line x1="482.7" y1="134.1" x2="447.10" y2="134.10" stroke="#111" stroke-width="0.9"/>
<path d="M441.70,134.10 L449.00,131.30 L447.10,134.10 L449.00,136.90 Z" fill="#111"/>
<text x="438.1" y="150.3" font-size="12"><tspan font-style="italic">d</tspan> increases</text>
<line x1="34.2" y1="188.3" x2="34.2" y2="354.2" stroke="#dcdcdc" stroke-width="1"/>
<line x1="102.99000000000001" y1="188.3" x2="102.99000000000001" y2="354.2" stroke="#dcdcdc" stroke-width="1"/>
<line x1="171.77999999999997" y1="188.3" x2="171.77999999999997" y2="354.2" stroke="#dcdcdc" stroke-width="1"/>
<line x1="240.57000000000005" y1="188.3" x2="240.57000000000005" y2="354.2" stroke="#dcdcdc" stroke-width="1"/>
<line x1="34.0" y1="229.8" x2="246.8" y2="229.8" stroke="#dcdcdc" stroke-width="1"/>
<line x1="34.0" y1="271.3" x2="246.8" y2="271.3" stroke="#dcdcdc" stroke-width="1"/>
<line x1="34.0" y1="312.8" x2="246.8" y2="312.8" stroke="#dcdcdc" stroke-width="1"/>
<polyline points="34.2,354.2 43.2,353.9 63.2,353.5 71.5,353.1 76.7,352.8 81.4,352.3 86.2,351.6 90.5,350.9 95.1,349.8 99.7,348.6 104.3,347.0 108.3,345.4 112.3,343.5 116.1,341.4 119.7,339.1 123.2,336.5 126.1,334.0 128.5,331.6 131.0,328.6 133.1,325.9 134.9,322.9 136.7,319.5 138.3,316.0 139.9,312.0 141.0,308.7 141.9,305.3 142.9,301.5 143.8,297.2 145.5,288.1 148.6,268.5 150.0,260.4 151.8,251.6 153.6,244.0 154.8,239.8 156.2,235.6 157.5,231.9 158.9,228.6 160.4,225.5 161.8,222.9 163.4,220.3 165.2,217.9 167.1,215.6 169.2,213.6 171.5,211.6 173.9,209.8 176.4,208.2 179.4,206.5 182.5,204.9 186.1,203.4 191.9,201.4 198.1,199.7 204.5,198.3 219.5,195.2 227.1,193.4 230.8,192.3 234.1,191.2 237.3,190.0 240.4,188.6" fill="none" stroke="#e8121c" stroke-width="1.4"  stroke-linejoin="round" clip-path="url(#cc)"/>
<polyline points="34.2,354.2 53.6,353.5 66.1,352.7 72.1,352.1 77.7,351.4 82.8,350.6 87.5,349.7 92.1,348.6 96.3,347.4 100.4,346.0 104.4,344.4 108.3,342.5 111.7,340.6 114.9,338.5 118.0,336.2 120.9,333.7 123.3,331.3 125.8,328.4 127.8,325.7 129.6,322.9 131.5,319.5 133.1,316.0 134.5,312.4 135.6,309.1 136.6,305.8 138.5,298.3 139.9,291.4 143.5,271.9 146.1,258.3 147.8,250.3 149.7,243.2 150.9,239.1 152.2,235.4 153.5,232.2 154.9,229.1 156.5,226.0 158.0,223.5 159.6,221.0 161.4,218.7 163.6,216.2 165.8,214.2 168.3,212.0 171.1,210.0 174.0,208.2 177.4,206.4 180.9,204.7 184.5,203.2 190.6,201.1 197.7,199.2 204.5,197.7 220.2,194.5 227.8,192.7 234.4,190.7 237.7,189.6 240.4,188.5" fill="none" stroke="#85f02a" stroke-width="1.4"  stroke-linejoin="round" clip-path="url(#cc)"/>
<polyline points="34.2,354.2 41.5,354.0 48.8,353.7 55.7,353.2 62.1,352.7 68.5,351.9 74.5,351.1 80.1,350.2 85.1,349.1 89.8,348.0 93.9,346.7 98.0,345.3 101.5,343.8 105.1,342.1 108.4,340.3 111.7,338.2 114.8,335.9 117.4,333.7 119.8,331.3 122.0,328.8 124.2,325.8 126.1,323.0 127.7,320.0 129.4,316.5 130.8,313.0 131.9,309.7 133.0,306.4 134.8,299.3 136.1,293.0 139.2,276.4 142.9,258.7 144.9,249.9 146.7,242.8 147.9,239.1 149.2,235.4 150.5,232.2 151.9,229.1 153.3,226.5 154.8,224.0 156.5,221.6 158.3,219.3 160.5,216.8 162.9,214.6 165.5,212.4 168.3,210.5 171.6,208.5 175.0,206.7 178.9,204.8 182.9,203.2 188.6,201.3 195.2,199.4 202.8,197.6 219.3,194.2 226.5,192.6 233.9,190.6 240.5,188.5" fill="none" stroke="#1616f0" stroke-width="1.4"  stroke-linejoin="round" clip-path="url(#cc)"/>
<polyline points="34.2,354.2 40.2,354.1 46.7,353.8 53.1,353.3 59.5,352.7 65.9,351.9 72.7,350.8 78.6,349.7 83.7,348.6 88.3,347.4 92.4,346.2 96.5,344.7 100.0,343.2 103.5,341.5 106.9,339.6 110.1,337.5 112.9,335.4 115.4,333.2 117.8,330.9 119.7,328.6 121.7,326.0 123.6,323.1 125.2,320.2 126.8,316.7 128.3,313.2 130.2,307.4 131.9,300.8 133.2,294.4 136.0,279.6 137.5,272.0 142.0,252.3 143.2,247.3 144.5,242.7 145.6,239.0 146.9,235.3 148.2,232.1 149.6,229.0 151.0,226.4 152.5,223.9 154.0,221.9 155.8,219.6 158.1,217.2 160.8,214.6 163.4,212.6 166.6,210.4 169.9,208.5 173.7,206.5 177.6,204.8 181.6,203.2 188.2,201.0 195.2,199.1 203.2,197.2 219.7,193.9 226.8,192.3 233.9,190.5 240.5,188.5" fill="none" stroke="#1a1a1a" stroke-width="1.4"  stroke-linejoin="round" clip-path="url(#cc)"/>
<polyline points="34.2,354.2 39.8,354.1 45.8,353.8 51.8,353.4 57.7,352.8 64.1,351.9 70.4,350.9 76.8,349.6 82.3,348.4 86.9,347.2 91.0,345.9 95.1,344.4 98.6,342.9 102.1,341.2 105.5,339.3 108.7,337.2 111.5,335.2 114.0,333.0 116.1,330.9 118.1,328.7 120.1,326.0 121.9,323.2 123.5,320.2 125.0,317.2 126.4,313.6 128.3,307.9 129.9,301.6 131.3,294.9 134.0,280.1 135.5,272.9 140.5,251.6 142.9,242.4 144.1,238.7 145.3,235.0 146.6,231.8 148.1,228.7 149.5,226.1 151.0,223.6 152.4,221.6 154.3,219.4 156.6,217.0 159.4,214.5 162.1,212.4 165.2,210.4 168.6,208.5 172.4,206.6 176.8,204.7 181.2,203.0 188.2,200.7 195.6,198.7 203.6,196.9 220.1,193.6 226.8,192.1 233.9,190.4 240.5,188.4" fill="none" stroke="#ffef00" stroke-width="1.4"  stroke-linejoin="round" clip-path="url(#cc)"/>
<polyline points="34.2,354.2 39.4,354.1 45.0,353.9 50.5,353.5 56.4,352.8 62.4,352.0 68.7,350.9 75.4,349.5 80.9,348.3 85.5,347.0 89.7,345.7 93.7,344.3 97.3,342.8 100.8,341.1 104.1,339.2 107.4,337.1 110.1,335.1 112.7,332.8 114.8,330.8 116.7,328.6 118.8,325.9 120.4,323.4 122.0,320.5 123.4,317.4 124.9,313.8 126.6,308.5 128.2,302.3 129.6,295.5 132.4,279.8 133.8,272.7 139.2,250.6 141.4,242.2 142.6,238.5 143.9,234.9 145.2,231.7 146.6,228.6 148.0,225.9 149.5,223.4 151.2,221.1 152.8,219.2 155.1,216.8 157.6,214.6 160.7,212.4 163.9,210.3 167.7,208.3 171.5,206.4 175.9,204.6 180.4,202.9 187.8,200.6 195.6,198.5 204.0,196.6 227.2,191.8 234.3,190.1 240.5,188.4" fill="none" stroke="#f020f0" stroke-width="1.4" stroke-dasharray="4.6 5.2" stroke-dashoffset="0.0" stroke-linejoin="round" clip-path="url(#cc)"/>
<polyline points="34.2,354.1 39.8,354.1 45.8,353.8 51.8,353.3 58.1,352.4 65.2,351.2 72.8,349.7 79.5,348.0 85.4,346.4 90.3,344.7 94.7,343.0 98.6,341.2 102.4,339.1 106.0,336.8 109.1,334.5 111.9,331.9 114.5,329.2 116.1,327.2 117.6,325.2 118.9,323.0 120.3,320.5 121.4,318.2 122.6,315.4 123.6,312.6 124.6,309.3 125.9,304.3 127.1,298.8 130.5,278.9 132.2,270.5 138.5,246.0 140.1,240.5 141.7,235.6 143.1,232.0 144.5,228.8 146.1,225.8 147.6,223.3 149.3,220.9 151.1,218.7 153.2,216.6 155.4,214.7 157.8,213.0 160.6,211.1 163.6,209.4 166.7,207.9 170.2,206.3 174.2,204.7 178.3,203.2 182.8,201.7 189.8,199.7 197.3,197.9 205.7,196.0 227.5,191.6 234.2,190.0 240.5,188.4" fill="none" stroke="#ffef00" stroke-width="1.4" stroke-dasharray="4.6 5.2" stroke-dashoffset="6.5" stroke-linejoin="round" clip-path="url(#cc)"/>
<polyline points="34.2,354.1 39.8,354.1 45.4,353.9 51.4,353.3 57.7,352.5 64.8,351.3 72.4,349.7 79.5,347.9 85.4,346.3 90.3,344.6 94.7,342.8 98.6,341.0 102.3,338.9 105.9,336.6 109.0,334.3 111.8,331.7 114.4,329.0 116.0,327.0 117.5,324.9 118.8,322.8 120.0,320.6 121.1,318.3 122.2,315.5 123.3,312.7 124.3,309.4 125.6,304.4 126.8,298.9 130.2,278.5 131.8,270.6 133.3,264.8 138.1,246.1 139.7,240.6 141.3,235.7 142.7,232.1 144.1,228.9 145.7,225.9 147.2,223.4 148.8,221.0 150.7,218.7 152.7,216.7 155.0,214.8 157.3,213.0 160.2,211.2 163.1,209.5 166.2,207.9 169.8,206.4 174.2,204.6 178.3,203.1 182.8,201.7 189.8,199.7 197.7,197.7 205.7,196.0 228.0,191.4 234.6,189.9 240.5,188.4" fill="none" stroke="#1a1a1a" stroke-width="1.4" stroke-dasharray="4.6 5.2" stroke-dashoffset="6.5" stroke-linejoin="round" clip-path="url(#cc)"/>
<polyline points="34.2,354.1 39.8,354.1 45.4,353.9 51.4,353.3 57.7,352.4 64.8,351.2 72.3,349.6 79.5,347.8 85.3,346.1 89.8,344.6 94.2,342.8 98.1,341.0 101.9,338.9 105.5,336.6 108.5,334.3 111.4,331.7 114.0,328.9 115.6,327.0 117.1,324.9 118.4,322.8 119.6,320.5 120.7,318.2 121.8,315.5 122.8,312.6 123.7,309.7 125.0,304.7 126.2,299.2 127.3,293.3 129.6,278.9 131.3,270.5 132.7,264.8 137.8,245.6 139.3,240.2 140.8,235.6 142.2,232.0 143.6,228.9 145.1,225.8 146.7,223.3 148.3,220.9 150.2,218.7 152.2,216.6 154.4,214.7 156.8,212.9 159.7,211.1 162.7,209.4 165.8,207.9 169.3,206.3 173.4,204.8 177.9,203.2 182.4,201.7 189.8,199.6 197.7,197.7 206.1,195.8 227.9,191.4 234.6,189.9 240.5,188.4" fill="none" stroke="#1616f0" stroke-width="1.4" stroke-dasharray="4.6 5.2" stroke-dashoffset="4.9" stroke-linejoin="round" clip-path="url(#cc)"/>
<polyline points="34.2,354.1 39.8,354.1 45.4,353.9 51.4,353.3 57.2,352.5 64.4,351.2 71.9,349.6 79.0,347.8 84.9,346.1 89.8,344.4 94.2,342.6 98.1,340.8 101.8,338.7 105.4,336.3 108.5,334.0 111.3,331.4 113.9,328.7 115.5,326.7 116.9,324.6 118.2,322.4 119.4,320.2 120.5,317.9 121.6,315.1 122.6,312.3 123.4,309.4 124.7,304.3 125.9,298.8 129.2,278.9 130.8,270.5 132.2,264.8 137.2,246.1 138.8,240.6 140.3,236.1 141.6,232.4 143.1,228.9 144.7,225.8 146.2,223.3 147.9,220.9 149.4,218.9 151.4,216.9 153.6,214.9 156.0,213.2 158.8,211.3 161.8,209.6 164.9,208.1 168.5,206.5 173.0,204.8 177.5,203.2 182.0,201.7 189.4,199.6 198.2,197.5 206.5,195.7 228.3,191.2 234.6,189.8 240.5,188.4" fill="none" stroke="#85f02a" stroke-width="1.4" stroke-dasharray="4.6 5.2" stroke-dashoffset="1.6" stroke-linejoin="round" clip-path="url(#cc)"/>
<polyline points="34.2,354.1 39.8,354.1 45.4,353.9 51.3,353.3 57.2,352.5 63.9,351.2 71.4,349.6 78.6,347.8 84.8,346.0 89.3,344.4 93.7,342.6 97.6,340.8 101.4,338.7 105.0,336.4 108.0,334.0 110.9,331.5 113.5,328.7 115.1,326.7 116.3,325.0 117.6,322.8 118.8,320.6 119.9,318.3 121.0,315.5 122.0,312.7 122.9,309.8 124.2,304.8 125.4,299.3 126.3,293.7 128.7,278.9 130.3,270.6 131.9,264.4 136.9,245.7 138.3,240.6 139.8,236.1 141.2,232.4 142.7,228.9 144.2,225.8 145.7,223.3 147.4,220.9 149.2,218.6 151.0,216.8 153.1,214.9 155.5,213.1 158.3,211.3 161.3,209.6 164.5,208.1 168.1,206.5 172.5,204.8 177.0,203.2 181.6,201.8 189.4,199.6 198.2,197.4 206.5,195.6 228.8,191.1 240.5,188.4" fill="none" stroke="#e8121c" stroke-width="1.4" stroke-dasharray="4.6 5.2" stroke-dashoffset="0.0" stroke-linejoin="round" clip-path="url(#cc)"/>
<line x1="34.2" y1="354.2" x2="34.2" y2="351.2" stroke="#262626" stroke-width="1"/>
<line x1="34.2" y1="188.3" x2="34.2" y2="191.3" stroke="#262626" stroke-width="1"/>
<line x1="102.99000000000001" y1="354.2" x2="102.99000000000001" y2="351.2" stroke="#262626" stroke-width="1"/>
<line x1="102.99000000000001" y1="188.3" x2="102.99000000000001" y2="191.3" stroke="#262626" stroke-width="1"/>
<line x1="171.77999999999997" y1="354.2" x2="171.77999999999997" y2="351.2" stroke="#262626" stroke-width="1"/>
<line x1="171.77999999999997" y1="188.3" x2="171.77999999999997" y2="191.3" stroke="#262626" stroke-width="1"/>
<line x1="240.57000000000005" y1="354.2" x2="240.57000000000005" y2="351.2" stroke="#262626" stroke-width="1"/>
<line x1="240.57000000000005" y1="188.3" x2="240.57000000000005" y2="191.3" stroke="#262626" stroke-width="1"/>
<line x1="34.0" y1="229.8" x2="37.0" y2="229.8" stroke="#262626" stroke-width="1"/>
<line x1="246.8" y1="229.8" x2="243.8" y2="229.8" stroke="#262626" stroke-width="1"/>
<line x1="34.0" y1="271.3" x2="37.0" y2="271.3" stroke="#262626" stroke-width="1"/>
<line x1="246.8" y1="271.3" x2="243.8" y2="271.3" stroke="#262626" stroke-width="1"/>
<line x1="34.0" y1="312.8" x2="37.0" y2="312.8" stroke="#262626" stroke-width="1"/>
<line x1="246.8" y1="312.8" x2="243.8" y2="312.8" stroke="#262626" stroke-width="1"/>
<rect x="34.0" y="188.3" width="212.8" height="165.89999999999998" fill="none" stroke="#262626" stroke-width="1.5"/>
<rect x="172" y="219" width="67" height="126" fill="#fff"/>
<line x1="174.5" y1="223.90" x2="211" y2="223.90" stroke="#e8121c" stroke-width="1.5"/>
<text x="213.6" y="227.30" font-size="10">0.04λ</text>
<line x1="174.5" y1="235.45" x2="211" y2="235.45" stroke="#85f02a" stroke-width="1.5"/>
<text x="213.6" y="238.85" font-size="10">0.05λ</text>
<line x1="174.5" y1="247.00" x2="211" y2="247.00" stroke="#1616f0" stroke-width="1.5"/>
<text x="213.6" y="250.40" font-size="10">0.06λ</text>
<line x1="174.5" y1="258.55" x2="211" y2="258.55" stroke="#1a1a1a" stroke-width="1.5"/>
<text x="213.6" y="261.95" font-size="10">0.07λ</text>
<line x1="174.5" y1="270.10" x2="211" y2="270.10" stroke="#ffef00" stroke-width="1.5"/>
<text x="213.6" y="273.50" font-size="10">0.08λ</text>
<line x1="174.5" y1="281.65" x2="211" y2="281.65" stroke="#f020f0" stroke-width="1.5" stroke-dasharray="4.6 5.2"/>
<text x="213.6" y="285.05" font-size="10">0.09λ</text>
<line x1="174.5" y1="293.20" x2="211" y2="293.20" stroke="#ffef00" stroke-width="1.5" stroke-dasharray="4.6 5.2"/>
<text x="213.6" y="296.60" font-size="10">0.10λ</text>
<line x1="174.5" y1="304.75" x2="211" y2="304.75" stroke="#1a1a1a" stroke-width="1.5" stroke-dasharray="4.6 5.2"/>
<text x="213.6" y="308.15" font-size="10">0.11λ</text>
<line x1="174.5" y1="316.30" x2="211" y2="316.30" stroke="#1616f0" stroke-width="1.5" stroke-dasharray="4.6 5.2"/>
<text x="213.6" y="319.70" font-size="10">0.12λ</text>
<line x1="174.5" y1="327.85" x2="211" y2="327.85" stroke="#85f02a" stroke-width="1.5" stroke-dasharray="4.6 5.2"/>
<text x="213.6" y="331.25" font-size="10">0.13λ</text>
<line x1="174.5" y1="339.40" x2="211" y2="339.40" stroke="#e8121c" stroke-width="1.5" stroke-dasharray="4.6 5.2"/>
<text x="213.6" y="342.80" font-size="10">0.14λ</text>
<text transform="translate(31.9,195.6) scale(0.88,1)" font-size="13.5" text-anchor="end">1.0</text>
<text transform="translate(31.9,234) scale(0.88,1)" font-size="13.5" text-anchor="end">0.5</text>
<text transform="translate(27.5,274.2) scale(0.88,1)" font-size="13.5" text-anchor="end">0</text>
<text transform="translate(32.2,316.6) scale(0.88,1)" font-size="13.5" text-anchor="end">0.5</text>
<rect x="12.95" y="312.70" width="3.5" height="1.15" fill="#1a1a1a"/>
<text transform="translate(32.2,355.0) scale(0.88,1)" font-size="13.5" text-anchor="end">1.0</text>
<rect x="12.95" y="351.10" width="3.5" height="1.15" fill="#1a1a1a"/>
<text transform="translate(36.8,366.7) scale(0.88,1)" font-size="13.5" text-anchor="middle">0.05</text>
<text transform="translate(102.6,366.7) scale(0.88,1)" font-size="13.5" text-anchor="middle">0.10</text>
<text transform="translate(171.1,366.7) scale(0.88,1)" font-size="13.5" text-anchor="middle">0.15</text>
<text transform="translate(240.3,366.7) scale(0.88,1)" font-size="13.5" text-anchor="middle">0.20</text>
<text x="35.9" y="201.3" font-size="15" text-anchor="start" >(c)</text>
<text transform="translate(10.6,290.4) rotate(-90)" font-size="14.5"><tspan>Δ</tspan><tspan font-style="italic">ϕ</tspan><tspan font-size="9" dy="4">E</tspan><tspan dy="-4" font-size="16" dx="2">(π)</tspan></text>
<text x="129" y="375.9" font-size="16" font-style="italic">α</text>
<line x1="102" y1="302.2" x2="64.25" y2="302.20" stroke="#e8121c" stroke-width="0.9"/>
<path d="M58.40,302.20 L66.30,299.15 L64.25,302.20 L66.30,305.25 Z" fill="#e8121c"/>
<text x="53.6" y="296" font-size="12.3"><tspan font-style="italic">d</tspan> increases</text>
<line x1="290.0" y1="188.8" x2="290.0" y2="353.1" stroke="#dcdcdc" stroke-width="1"/>
<line x1="357.85" y1="188.8" x2="357.85" y2="353.1" stroke="#dcdcdc" stroke-width="1"/>
<line x1="425.7" y1="188.8" x2="425.7" y2="353.1" stroke="#dcdcdc" stroke-width="1"/>
<line x1="493.55000000000007" y1="188.8" x2="493.55000000000007" y2="353.1" stroke="#dcdcdc" stroke-width="1"/>
<line x1="289.5" y1="270.95000000000005" x2="500.5" y2="270.95000000000005" stroke="#dcdcdc" stroke-width="1"/>
<polyline points="328.4,203.9 338.3,206.3 341.8,207.3 344.5,208.2 347.2,209.2 349.9,210.4 352.5,211.8 355.0,213.3 357.4,214.9 360.2,217.2 362.4,219.1 365.0,221.7 367.4,224.4 369.7,227.2 371.8,230.2 373.6,233.0 376.6,238.2 379.4,244.1 382.0,250.8 384.3,257.6 386.3,264.5 388.5,273.1 395.1,301.0 397.6,312.7 398.5,316.2 399.3,319.1 399.9,320.7 400.5,321.8 401.1,322.0 401.6,321.7 402.2,320.8 403.0,319.2 403.5,317.6 404.4,314.2 406.2,305.7 408.9,292.5 411.1,280.5 412.6,271.3 415.1,255.2 416.2,248.9 417.4,242.6 418.7,237.5 419.6,234.2 420.9,230.5 422.2,226.8 423.5,224.0 425.2,220.4 426.7,217.7 428.3,215.0 430.1,212.5 432.5,209.4 434.6,207.1 436.9,205.0 439.3,203.0 441.9,201.3 444.7,199.8 447.6,198.6 450.5,197.6 452.8,197.0 455.9,196.4 461.3,195.7 467.5,195.3 480.8,195.1 486.3,194.8 491.0,194.4 495.6,193.6" fill="none" stroke="#e8121c" stroke-width="1.4"  stroke-linejoin="round" clip-path="url(#cd)"/>
<polyline points="297.0,197.3 310.4,199.3 322.3,201.4 332.7,203.7 336.8,204.8 340.2,205.9 343.5,207.1 346.1,208.2 349.2,209.9 351.7,211.3 354.0,213.0 356.2,214.8 358.2,216.7 360.7,219.3 362.5,221.4 364.7,224.2 366.7,227.1 368.6,230.1 370.4,233.3 372.1,236.5 373.6,239.8 375.0,243.2 377.3,249.5 379.4,256.4 381.3,263.4 385.6,281.2 387.1,286.8 388.7,291.8 390.9,298.0 392.7,302.3 393.5,303.9 394.1,304.6 394.8,305.2 395.2,305.3 395.7,305.2 396.8,304.4 397.6,303.5 398.3,302.6 399.2,300.8 400.2,297.9 400.8,294.8 402.6,285.6 409.4,249.1 411.3,240.7 412.4,236.8 413.5,233.4 414.8,229.6 416.0,226.5 417.7,222.8 419.2,219.8 420.8,216.9 422.6,214.2 424.6,211.5 426.7,209.0 429.0,206.6 431.5,204.4 434.2,202.5 436.3,201.2 438.5,200.0 441.5,198.7 443.9,197.9 447.1,197.1 449.5,196.6 452.8,196.1 458.5,195.6 465.2,195.4 479.2,195.4 485.0,195.1 489.9,194.6 492.4,194.2 494.8,193.6" fill="none" stroke="#85f02a" stroke-width="1.4"  stroke-linejoin="round" clip-path="url(#cd)"/>
<polyline points="297.1,196.9 315.7,199.7 323.3,200.9 330.9,202.5 334.3,203.4 337.6,204.4 340.9,205.6 343.5,206.7 346.0,207.9 348.4,209.3 350.7,210.9 353.0,212.6 355.0,214.4 357.0,216.4 358.8,218.5 360.6,220.7 362.2,223.0 364.1,225.9 365.9,228.9 367.6,232.0 369.0,234.9 370.6,238.3 373.1,244.8 375.3,251.9 377.1,258.7 381.2,275.8 382.7,281.0 384.0,285.2 385.0,288.0 386.2,290.7 387.2,292.8 388.3,294.9 389.3,296.6 390.1,297.5 390.7,298.1 391.6,298.3 392.4,298.1 393.1,297.7 394.1,297.1 394.9,296.3 395.4,295.8 396.0,294.8 396.5,293.7 396.8,292.5 397.4,290.0 399.0,280.1 400.6,271.0 404.4,252.3 405.7,246.5 407.1,241.1 408.5,236.3 409.9,231.9 411.5,227.9 413.1,224.0 414.6,220.9 416.3,217.9 418.1,215.0 420.1,212.2 422.3,209.6 424.0,207.7 426.5,205.4 428.5,203.7 430.6,202.3 432.8,201.0 435.1,199.8 438.3,198.5 440.7,197.8 444.1,197.0 446.6,196.5 450.0,196.1 455.9,195.6 461.9,195.5 476.5,195.6 483.3,195.3 486.7,195.0 489.3,194.7 491.8,194.2 494.3,193.6" fill="none" stroke="#1616f0" stroke-width="1.4"  stroke-linejoin="round" clip-path="url(#cd)"/>
<polyline points="297.1,196.7 303.2,197.7 317.0,199.5 323.8,200.6 330.6,202.0 336.0,203.5 339.2,204.6 341.8,205.7 344.3,206.9 346.7,208.2 349.0,209.7 351.3,211.4 353.3,213.2 355.3,215.2 357.1,217.3 358.8,219.5 360.4,221.7 362.3,224.7 365.3,230.1 366.8,233.2 368.2,236.3 370.7,242.8 372.9,249.9 374.7,256.6 378.6,273.1 380.0,278.1 381.3,282.2 382.4,285.1 383.5,287.9 384.8,290.6 386.3,293.3 387.2,294.8 387.7,295.5 388.4,296.0 389.2,296.2 390.1,296.1 390.8,295.7 391.5,295.2 392.5,294.3 393.0,293.7 393.7,292.6 394.3,291.4 394.7,290.2 395.2,287.6 396.4,278.7 397.7,271.1 399.0,263.9 400.6,256.3 402.2,249.2 403.9,243.0 405.6,237.2 407.4,231.9 409.0,227.8 410.7,223.8 412.2,220.7 413.9,217.6 415.8,214.7 417.9,211.8 420.1,209.2 421.9,207.3 424.5,204.9 426.6,203.3 428.8,201.9 431.0,200.6 433.4,199.4 436.7,198.2 439.2,197.5 442.6,196.8 445.2,196.3 448.7,195.9 454.8,195.6 460.9,195.5 474.9,195.7 481.9,195.5 485.4,195.2 488.9,194.8 491.5,194.3 494.0,193.6" fill="none" stroke="#1a1a1a" stroke-width="1.4"  stroke-linejoin="round" clip-path="url(#cd)"/>
<polyline points="297.0,196.4 302.5,197.3 316.2,199.1 323.1,200.2 329.9,201.5 335.9,203.2 339.2,204.3 341.7,205.4 344.2,206.5 346.6,207.9 349.0,209.4 351.2,211.1 353.2,212.9 355.1,214.9 356.9,217.1 358.5,219.3 360.1,221.6 361.5,224.0 364.4,229.5 365.9,232.8 367.2,236.0 369.7,242.9 372.0,250.4 373.8,257.1 378.1,274.8 379.5,279.8 380.9,284.3 383.0,290.0 384.8,293.9 385.5,295.1 386.3,296.1 387.0,296.5 387.4,296.6 387.8,296.5 388.5,296.1 389.4,295.3 390.3,294.3 391.3,292.5 392.3,290.1 392.9,287.2 394.9,275.8 396.6,266.9 399.5,253.4 401.2,246.8 403.0,240.1 404.8,234.0 406.6,228.6 407.9,225.2 409.4,222.0 411.0,218.8 412.4,216.5 414.4,213.5 416.0,211.4 417.7,209.4 419.6,207.5 422.3,205.1 424.4,203.4 426.6,202.0 428.9,200.6 431.3,199.5 434.7,198.2 437.2,197.5 440.7,196.7 443.4,196.3 446.9,195.9 453.1,195.5 459.4,195.5 474.6,195.7 481.7,195.6 485.2,195.3 487.9,194.9 491.4,194.3 494.0,193.6" fill="none" stroke="#ffef00" stroke-width="1.4"  stroke-linejoin="round" clip-path="url(#cd)"/>
<polyline points="297.0,196.2 303.2,197.1 316.9,199.0 323.0,200.0 329.8,201.3 335.8,203.0 339.1,204.1 341.7,205.1 344.2,206.3 346.6,207.6 348.9,209.1 350.5,210.4 352.6,212.2 354.5,214.2 355.9,215.8 357.5,218.0 359.1,220.3 360.5,222.7 361.8,225.1 363.3,228.2 364.7,231.4 366.1,234.8 368.8,242.6 371.3,250.9 373.4,258.4 378.0,276.8 379.5,282.2 380.9,286.6 382.4,291.0 383.8,294.1 384.4,295.2 384.9,295.8 385.6,296.3 386.0,296.4 386.4,296.3 387.1,295.8 387.9,294.9 388.8,293.6 389.9,291.3 390.7,288.9 391.5,285.2 396.1,262.7 398.5,252.2 400.2,245.6 402.1,238.5 404.3,231.1 405.8,226.8 407.1,223.4 408.2,221.0 409.5,218.6 410.9,216.2 412.9,213.2 414.6,211.1 416.4,209.1 418.3,207.1 421.1,204.8 423.2,203.2 425.5,201.7 427.9,200.4 430.4,199.2 433.8,198.0 436.4,197.3 439.9,196.5 445.3,195.8 451.6,195.4 458.0,195.4 474.3,195.8 481.5,195.6 485.1,195.3 487.8,194.9 491.4,194.3 494.0,193.5" fill="none" stroke="#f020f0" stroke-width="1.4" stroke-dasharray="4.6 5.2" stroke-dashoffset="0.0" stroke-linejoin="round" clip-path="url(#cd)"/>
<polyline points="297.0,196.0 315.5,198.5 322.3,199.6 329.7,201.1 335.7,202.7 339.0,203.8 341.6,204.8 344.1,206.0 346.5,207.3 348.8,208.8 350.5,210.1 352.5,211.9 354.4,214.0 355.7,215.6 357.3,217.8 359.8,221.9 361.1,224.4 362.5,227.5 364.9,233.6 368.1,243.1 371.1,253.4 373.5,262.2 378.6,282.2 380.9,290.7 381.8,293.1 382.7,295.0 383.1,295.8 383.7,296.4 384.0,296.6 384.4,296.8 384.8,296.6 385.4,296.0 386.6,293.9 387.8,291.2 388.8,288.0 390.9,279.4 395.1,260.2 397.1,251.9 402.4,232.0 404.3,225.8 405.3,223.2 406.4,220.7 407.7,218.2 409.1,215.9 410.7,213.6 412.4,211.4 414.2,209.4 416.2,207.4 419.0,205.0 421.2,203.3 424.3,201.4 426.7,200.1 429.2,198.9 431.8,198.0 434.5,197.2 438.1,196.5 440.8,196.0 444.5,195.6 450.9,195.3 457.4,195.4 473.0,195.8 480.4,195.7 484.1,195.4 487.7,195.0 491.3,194.3 494.0,193.5" fill="none" stroke="#ffef00" stroke-width="1.4" stroke-dasharray="4.6 5.2" stroke-dashoffset="6.5" stroke-linejoin="round" clip-path="url(#cd)"/>
<polyline points="297.0,195.9 315.5,198.4 322.3,199.5 329.7,201.0 335.7,202.6 339.0,203.7 341.5,204.7 344.1,205.9 346.5,207.2 348.8,208.7 351.0,210.4 352.5,211.8 354.4,213.9 355.7,215.5 357.2,217.7 359.7,221.9 362.1,226.9 364.5,233.2 368.0,243.9 371.5,256.0 374.4,266.8 380.7,292.0 381.4,294.0 382.3,296.0 383.1,297.0 383.4,297.3 383.9,297.4 384.2,297.2 384.8,296.6 385.9,294.3 387.2,291.1 388.3,287.5 390.6,278.3 394.7,259.8 396.5,252.3 402.1,231.1 403.6,225.7 404.6,223.1 405.8,220.6 407.1,218.1 408.5,215.8 410.1,213.5 411.8,211.3 413.7,209.2 415.6,207.3 418.4,204.9 420.7,203.2 423.8,201.2 426.3,200.0 428.8,198.8 431.5,197.9 434.1,197.2 437.8,196.4 440.5,196.0 444.2,195.6 450.7,195.3 457.2,195.4 472.9,195.8 480.3,195.7 484.0,195.5 487.7,195.0 491.3,194.3 494.0,193.5" fill="none" stroke="#1a1a1a" stroke-width="1.4" stroke-dasharray="4.6 5.2" stroke-dashoffset="6.5" stroke-linejoin="round" clip-path="url(#cd)"/>
<polyline points="297.0,195.8 315.5,198.4 322.3,199.5 329.7,200.9 335.7,202.5 339.0,203.6 341.5,204.7 344.0,205.8 346.5,207.1 348.8,208.7 350.9,210.4 352.4,211.8 354.3,213.8 355.6,215.4 357.2,217.7 359.6,221.8 361.9,226.8 364.2,232.8 365.8,237.7 368.0,244.8 371.9,258.5 375.3,271.4 380.4,292.4 381.2,294.5 381.9,296.0 382.7,297.1 383.0,297.3 383.4,297.5 383.8,297.3 384.3,296.6 385.5,293.9 386.8,290.3 388.1,286.2 390.4,277.0 394.3,259.4 396.0,252.3 401.8,230.2 403.4,224.8 404.1,223.1 405.2,220.5 406.6,218.1 408.0,215.7 409.6,213.4 411.3,211.2 413.2,209.1 415.2,207.2 418.0,204.8 420.3,203.1 423.5,201.1 425.9,199.9 428.5,198.8 431.1,197.8 433.8,197.1 437.5,196.3 440.2,195.9 443.9,195.5 450.5,195.3 457.0,195.3 471.9,195.8 476.5,195.8 480.2,195.7 484.0,195.5 487.7,195.0 491.3,194.3 494.0,193.5" fill="none" stroke="#1616f0" stroke-width="1.4" stroke-dasharray="4.6 5.2" stroke-dashoffset="4.9" stroke-linejoin="round" clip-path="url(#cd)"/>
<polyline points="297.0,195.8 314.8,198.2 322.2,199.4 329.7,200.9 333.0,201.7 336.3,202.7 339.6,203.8 342.1,204.9 344.6,206.1 347.0,207.4 349.3,209.0 350.9,210.3 352.4,211.7 354.3,213.7 355.6,215.3 357.1,217.6 359.5,221.8 361.8,226.8 363.8,232.4 365.6,237.7 368.2,246.4 372.5,261.4 376.0,275.2 380.0,292.5 380.7,294.5 381.5,296.1 382.2,297.2 382.5,297.4 382.9,297.6 383.3,297.4 383.8,296.7 384.9,293.9 386.5,289.5 388.1,284.1 390.3,275.4 395.5,252.8 401.6,229.2 402.9,224.8 403.6,223.0 404.7,220.5 406.0,218.0 407.5,215.6 410.3,211.8 412.1,209.7 414.1,207.7 416.9,205.2 419.1,203.5 422.3,201.5 424.8,200.2 427.3,199.0 430.8,197.8 433.5,197.0 437.2,196.3 442.8,195.6 449.3,195.3 455.9,195.3 472.7,195.9 480.2,195.7 483.9,195.5 487.6,195.0 491.3,194.3 494.0,193.5" fill="none" stroke="#85f02a" stroke-width="1.4" stroke-dasharray="4.6 5.2" stroke-dashoffset="1.6" stroke-linejoin="round" clip-path="url(#cd)"/>
<polyline points="297.0,195.7 314.7,198.1 322.2,199.3 329.7,200.8 333.0,201.7 336.3,202.6 339.6,203.8 342.1,204.8 344.6,206.0 347.0,207.4 349.3,208.9 350.9,210.2 352.4,211.6 354.3,213.7 355.5,215.3 357.1,217.6 359.4,221.8 361.7,226.8 363.7,232.4 365.4,237.8 368.5,248.1 373.0,263.9 376.3,276.9 379.9,292.9 380.4,294.6 381.1,296.1 381.9,297.2 382.2,297.5 382.6,297.6 383.0,297.5 383.4,296.7 384.4,294.3 386.2,289.0 388.0,282.9 390.1,274.5 395.1,253.2 399.1,237.8 401.2,229.2 402.5,224.7 403.2,223.0 404.3,220.4 405.7,217.9 407.1,215.5 409.9,211.7 411.8,209.6 413.8,207.6 416.6,205.2 418.9,203.5 422.0,201.4 424.5,200.1 427.1,199.0 430.6,197.7 433.3,197.0 437.0,196.2 442.6,195.5 449.2,195.2 455.7,195.3 471.7,195.9 476.4,195.9 480.1,195.8 483.9,195.5 487.6,195.0 491.3,194.3 494.0,193.5" fill="none" stroke="#e8121c" stroke-width="1.4" stroke-dasharray="4.6 5.2" stroke-dashoffset="0.0" stroke-linejoin="round" clip-path="url(#cd)"/>
<line x1="290.0" y1="353.1" x2="290.0" y2="350.1" stroke="#262626" stroke-width="1"/>
<line x1="290.0" y1="188.8" x2="290.0" y2="191.8" stroke="#262626" stroke-width="1"/>
<line x1="357.85" y1="353.1" x2="357.85" y2="350.1" stroke="#262626" stroke-width="1"/>
<line x1="357.85" y1="188.8" x2="357.85" y2="191.8" stroke="#262626" stroke-width="1"/>
<line x1="425.7" y1="353.1" x2="425.7" y2="350.1" stroke="#262626" stroke-width="1"/>
<line x1="425.7" y1="188.8" x2="425.7" y2="191.8" stroke="#262626" stroke-width="1"/>
<line x1="493.55000000000007" y1="353.1" x2="493.55000000000007" y2="350.1" stroke="#262626" stroke-width="1"/>
<line x1="493.55000000000007" y1="188.8" x2="493.55000000000007" y2="191.8" stroke="#262626" stroke-width="1"/>
<line x1="289.5" y1="270.95000000000005" x2="292.5" y2="270.95000000000005" stroke="#262626" stroke-width="1"/>
<line x1="500.5" y1="270.95000000000005" x2="497.5" y2="270.95000000000005" stroke="#262626" stroke-width="1"/>
<rect x="289.5" y="188.8" width="211.0" height="164.3" fill="none" stroke="#262626" stroke-width="1.5"/>
<rect x="431" y="214" width="67" height="128" fill="#fff"/>
<line x1="433.2" y1="219.50" x2="470" y2="219.50" stroke="#e8121c" stroke-width="1.5"/>
<text x="472.8" y="222.90" font-size="10">0.04λ</text>
<line x1="433.2" y1="231.06" x2="470" y2="231.06" stroke="#85f02a" stroke-width="1.5"/>
<text x="472.8" y="234.46" font-size="10">0.05λ</text>
<line x1="433.2" y1="242.62" x2="470" y2="242.62" stroke="#1616f0" stroke-width="1.5"/>
<text x="472.8" y="246.02" font-size="10">0.06λ</text>
<line x1="433.2" y1="254.18" x2="470" y2="254.18" stroke="#1a1a1a" stroke-width="1.5"/>
<text x="472.8" y="257.58" font-size="10">0.07λ</text>
<line x1="433.2" y1="265.74" x2="470" y2="265.74" stroke="#ffef00" stroke-width="1.5"/>
<text x="472.8" y="269.14" font-size="10">0.08λ</text>
<line x1="433.2" y1="277.30" x2="470" y2="277.30" stroke="#f020f0" stroke-width="1.5" stroke-dasharray="4.6 5.2"/>
<text x="472.8" y="280.70" font-size="10">0.09λ</text>
<line x1="433.2" y1="288.86" x2="470" y2="288.86" stroke="#ffef00" stroke-width="1.5" stroke-dasharray="4.6 5.2"/>
<text x="472.8" y="292.26" font-size="10">0.10λ</text>
<line x1="433.2" y1="300.42" x2="470" y2="300.42" stroke="#1a1a1a" stroke-width="1.5" stroke-dasharray="4.6 5.2"/>
<text x="472.8" y="303.82" font-size="10">0.11λ</text>
<line x1="433.2" y1="311.98" x2="470" y2="311.98" stroke="#1616f0" stroke-width="1.5" stroke-dasharray="4.6 5.2"/>
<text x="472.8" y="315.38" font-size="10">0.12λ</text>
<line x1="433.2" y1="323.54" x2="470" y2="323.54" stroke="#85f02a" stroke-width="1.5" stroke-dasharray="4.6 5.2"/>
<text x="472.8" y="326.94" font-size="10">0.13λ</text>
<line x1="433.2" y1="335.10" x2="470" y2="335.10" stroke="#e8121c" stroke-width="1.5" stroke-dasharray="4.6 5.2"/>
<text x="472.8" y="338.50" font-size="10">0.14λ</text>
<text transform="translate(287.8,196.0) scale(0.88,1)" font-size="13.5" text-anchor="end">1.0</text>
<text transform="translate(287.8,275.5) scale(0.88,1)" font-size="13.5" text-anchor="end">0.5</text>
<text transform="translate(286.8,354.0) scale(0.88,1)" font-size="13.5" text-anchor="end">0</text>
<text transform="translate(294.2,364.5) scale(0.88,1)" font-size="13.5" text-anchor="middle">0.05</text>
<text transform="translate(360,364.5) scale(0.88,1)" font-size="13.5" text-anchor="middle">0.10</text>
<text transform="translate(428.9,364.5) scale(0.88,1)" font-size="13.5" text-anchor="middle">0.15</text>
<text transform="translate(498.5,364.5) scale(0.88,1)" font-size="13.5" text-anchor="middle">0.20</text>
<text x="292.4" y="347.9" font-size="15" text-anchor="start" >(d)</text>
<text transform="translate(270,299.1) rotate(-90)" font-size="14.5">Reflectivity</text>
<text x="390.2" y="375.9" font-size="16" font-style="italic">α</text>
<line x1="427.8" y1="325.3" x2="367.77" y2="325.30" stroke="#1a1af8" stroke-width="1.0"/>
<path d="M358.30,325.30 L371.10,320.20 L367.77,325.30 L371.10,330.40 Z" fill="#1a1af8"/>
<text x="368.2" y="341.0" font-size="12.2"><tspan font-style="italic">d</tspan> increases</text>
</svg></body></html>
